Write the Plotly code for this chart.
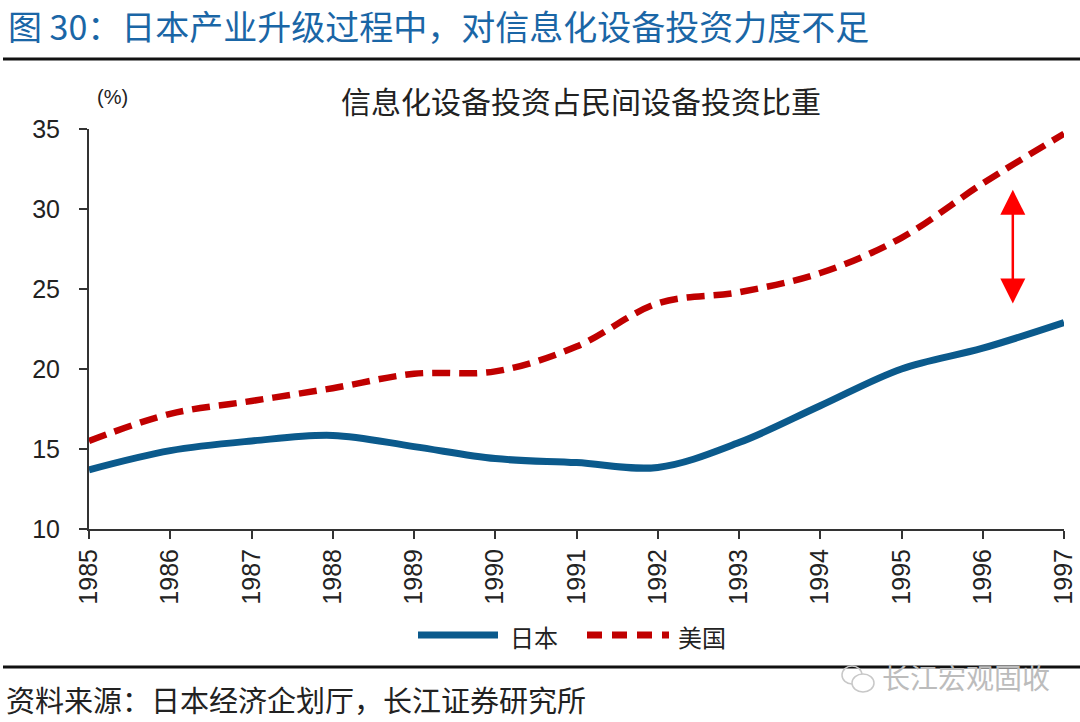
import plotly.graph_objects as go

years = list(range(1985, 1998))
japan = [13.7, 14.9, 15.5, 15.85, 15.15, 14.4, 14.15, 13.85, 15.4, 17.7, 20.0, 21.3, 22.9]
usa = [15.5, 17.2, 18.0, 18.8, 19.7, 19.85, 21.4, 24.1, 24.8, 26.0, 28.2, 31.6, 34.7]
x_ticks = [str(y) for y in years]
gap_year, gap_top, gap_bottom = 1996.37, 31.2, 24.0

FONT = "Liberation Sans, Arial, Noto Sans CJK SC, sans-serif"
CJK = "Noto Sans CJK SC, Liberation Sans, sans-serif"
BLUE = "#0b5a8c"
RED = "#c00000"

W, H = 1080, 722
L, R, T, B = 89, 16, 129, 193


# pixel -> paper helpers for the decoration around the plot
def px(x):
    return (x - L) / (W - L - R)


def py(y):
    return (H - B - y) / (H - T - B)


fig = go.Figure()
fig.add_trace(go.Scatter(x=years, y=japan, name="日本", mode="lines",
                         line=dict(color=BLUE, width=7, shape="spline", smoothing=1)))
fig.add_trace(go.Scatter(x=years, y=usa, name="美国", mode="lines",
                         line=dict(color=RED, width=6.5, shape="spline", smoothing=1,
                                   dash="18px,9px")))

# red double arrow showing the gap
fig.add_annotation(x=gap_year, y=gap_top, ax=gap_year, ay=gap_bottom,
                   xref="x", yref="y", axref="x", ayref="y", text="",
                   showarrow=True, arrowhead=2, startarrowhead=2, arrowside="end+start",
                   arrowsize=2, startarrowsize=2, arrowwidth=2.5, arrowcolor="#ff0000")

shapes = [
    dict(type="line", xref="paper", yref="paper", x0=px(3), x1=px(1080), y0=py(59), y1=py(59),
         line=dict(color="#111", width=3)),
    dict(type="line", xref="paper", yref="paper", x0=px(3), x1=px(1080), y0=py(667), y1=py(667),
         line=dict(color="#111", width=3)),
    # manual legend samples
    dict(type="line", xref="paper", yref="paper", x0=px(418), x1=px(498), y0=py(635), y1=py(635),
         line=dict(color=BLUE, width=7)),
    dict(type="line", xref="paper", yref="paper", x0=px(587), x1=px(669), y0=py(635), y1=py(635),
         line=dict(color=RED, width=7, dash="15px,10px")),
    # watermark icon
    dict(type="circle", xref="paper", yref="paper", x0=px(842), x1=px(862), y0=py(666), y1=py(684),
         line=dict(color="#c8c8c8", width=1.5)),
    dict(type="circle", xref="paper", yref="paper", x0=px(852), x1=px(874), y0=py(674), y1=py(692),
         line=dict(color="#c8c8c8", width=1.5), fillcolor="white"),
]

annotations = [
    dict(text="图 30：日本产业升级过程中，对信息化设备投资力度不足", x=px(6), y=py(25),
         xanchor="left", yanchor="middle", font=dict(family=CJK, size=34, color="#1a66a6")),
    dict(text="信息化设备投资占民间设备投资比重", x=px(581), y=py(100),
         xanchor="center", yanchor="middle", font=dict(family=CJK, size=30, color="#222")),
    dict(text="(%)", x=px(112), y=py(97), xanchor="center", yanchor="middle",
         font=dict(family=FONT, size=20, color="#222")),
    dict(text="日本", x=px(508), y=py(636), xanchor="left", yanchor="middle",
         font=dict(family=CJK, size=24, color="#222")),
    dict(text="美国", x=px(676), y=py(636), xanchor="left", yanchor="middle",
         font=dict(family=CJK, size=24, color="#222")),
    dict(text="资料来源：日本经济企划厅，长江证券研究所", x=px(4), y=py(699),
         xanchor="left", yanchor="middle", font=dict(family=CJK, size=29, color="#222")),
    dict(text="长江宏观固收", x=px(880), y=py(677), xanchor="left", yanchor="middle",
         font=dict(family=CJK, size=28, color="#bcbcbc")),
]
for a in annotations:
    a.update(xref="paper", yref="paper", showarrow=False)
    fig.add_annotation(**a)

fig.update_layout(
    width=W, height=H, margin=dict(l=L, r=R, t=T, b=B),
    paper_bgcolor="white", plot_bgcolor="white", showlegend=False,
    shapes=shapes, font=dict(family=FONT, color="#222"),
)
fig.update_xaxes(range=[1985, 1997], tickvals=years, ticktext=x_ticks, tickangle=-90,
                 showgrid=False, zeroline=False, showline=True, linecolor="#333", linewidth=2,
                 ticks="outside", ticklen=8, tickwidth=2, tickcolor="#333", automargin=False,
                 tickfont=dict(size=25, color="#222"))
fig.update_yaxes(range=[10, 35], tickvals=[10, 15, 20, 25, 30, 35], showgrid=False,
                 zeroline=False, showline=True, linecolor="#333", linewidth=2,
                 ticks="outside", ticklen=8, tickwidth=2, tickcolor="#333", automargin=False,
                 ticklabelstandoff=14, tickfont=dict(size=25, color="#222"))

# drop the browser's default body margin so the figure sits at the page corner
fig.write_html("out.html", config={"displayModeBar": False},
               post_script="document.body.style.margin='0';")
